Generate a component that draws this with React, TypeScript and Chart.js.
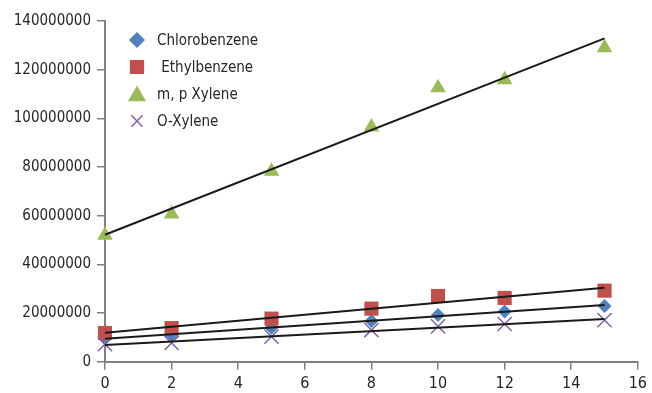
import React, { useEffect, useRef } from "react";
import { Chart, registerables } from "chart.js";
import { drawPoint } from "chart.js/helpers";

Chart.register(...registerables);

// Concentration levels (x) and detector response for each compound
const levels = [0, 2, 5, 8, 10, 12, 15];
const chlorobenzene = [9.5e6, 11.0e6, 14.0e6, 16.7e6, 19.2e6, 20.6e6, 22.9e6];
const ethylbenzene = [11.8e6, 13.8e6, 17.7e6, 21.8e6, 27.0e6, 26.2e6, 29.2e6];
const mpXylene = [52.0e6, 60.7e6, 78.3e6, 96.4e6, 112.6e6, 115.9e6, 129.0e6];
const oXylene = [7.2e6, 7.7e6, 10.3e6, 13.0e6, 14.5e6, 15.5e6, 17.1e6];

const seriesNames = ["Chlorobenzene", " Ethylbenzene", "m, p Xylene", "O-Xylene"];
const seriesValues = [chlorobenzene, ethylbenzene, mpXylene, oXylene];
const seriesColors = ["#4F81BD", "#C0504D", "#9BBB59", "#8064A2"];
const seriesStyles = ["rectRot", "rect", "triangle", "crossRot"] as const;
const seriesRadius = [7, 10, 9, 10];

const xTicks = { min: 0, max: 16, step: 2 };
const yTicks = { min: 0, max: 140000000, step: 20000000 };

const FONT = '"DejaVu Sans Condensed", "Liberation Sans Narrow", sans-serif';
const TEXT = "#262626";
const AXIS = "#808080";

// Least-squares linear trendline over the full level range
function trend(values: number[]) {
  const n = levels.length;
  const mx = levels.reduce((a, b) => a + b, 0) / n;
  const my = values.reduce((a, b) => a + b, 0) / n;
  let sxy = 0;
  let sxx = 0;
  for (let i = 0; i < n; i++) {
    sxy += (levels[i] - mx) * (values[i] - my);
    sxx += (levels[i] - mx) * (levels[i] - mx);
  }
  const slope = sxy / sxx;
  const icpt = my - slope * mx;
  const x0 = levels[0];
  const x1 = levels[n - 1];
  return [
    { x: x0, y: icpt + slope * x0 },
    { x: x1, y: icpt + slope * x1 },
  ];
}

const insideLegend = {
  id: "insideLegend",
  afterDraw(chart: any) {
    const ctx = chart.ctx as CanvasRenderingContext2D;
    const left = 137;
    const top = 40;
    const gap = 27;
    ctx.save();
    seriesNames.forEach((name, i) => {
      const y = top + i * gap;
      const style = seriesStyles[i];
      ctx.fillStyle = seriesColors[i];
      ctx.strokeStyle = seriesColors[i];
      ctx.lineWidth = 1.5;
      const r = style === "triangle" ? 9 : style === "rectRot" ? 7 : style === "rect" ? 9 : 8;
      drawPoint(ctx, { pointStyle: style, radius: r, rotation: 0, borderWidth: 1.5 }, left, style === "triangle" ? y + 2 : y);
      ctx.fillStyle = TEXT;
      ctx.font = `15px ${FONT}`;
      ctx.textBaseline = "middle";
      ctx.textAlign = "left";
      ctx.fillText(name, 157, y + 1);
    });
    ctx.restore();
  },
};

export default function App() {
  const canvasRef = useRef<HTMLCanvasElement | null>(null);

  useEffect(() => {
    document.body.style.margin = "0";
    const canvas = canvasRef.current;
    if (!canvas) return;

    const scatterSets = seriesNames.map((name, i) => ({
      type: "scatter" as const,
      label: name.trim(),
      data: levels.map((x, j) => ({ x, y: seriesValues[i][j] })),
      pointStyle: seriesStyles[i],
      pointRadius: seriesRadius[i],
      pointBackgroundColor: seriesColors[i],
      pointBorderColor: seriesColors[i],
      pointBorderWidth: seriesStyles[i] === "crossRot" ? 1.5 : 0,
      showLine: false,
      clip: false,
      order: [5, 4, 3, 2][i],
    }));

    const trendSets = seriesValues.map((vals, i) => ({
      type: "line" as const,
      label: `trend ${i}`,
      data: trend(vals),
      borderColor: "#1a1a1a",
      borderWidth: 2,
      pointRadius: 0,
      fill: false,
      clip: false,
      order: 1,
    }));

    const chart = new Chart(canvas, {
      type: "scatter",
      data: { datasets: [...scatterSets, ...trendSets] as any },
      options: {
        animation: false,
        responsive: false,
        maintainAspectRatio: false,
        layout: { padding: { top: 21, right: 11, left: 0, bottom: 0 } },
        plugins: {
          legend: { display: false },
          tooltip: { enabled: false },
        },
        scales: {
          x: {
            type: "linear",
            min: xTicks.min,
            max: xTicks.max,
            ticks: {
              stepSize: xTicks.step,
              color: TEXT,
              font: { family: FONT, size: 16 },
              padding: 5,
            },
            grid: {
              drawOnChartArea: false,
              drawTicks: true,
              tickLength: 8,
              color: AXIS,
              lineWidth: 1.5,
            },
            border: { color: AXIS, width: 2 },
            afterFit(scale: any) {
              scale.height = 31.3;
            },
          },
          y: {
            type: "linear",
            min: yTicks.min,
            max: yTicks.max,
            ticks: {
              stepSize: yTicks.step,
              color: TEXT,
              font: { family: FONT, size: 15 },
              padding: 6,
              callback: (v: any) => String(v),
            },
            grid: {
              drawOnChartArea: false,
              drawTicks: true,
              tickLength: 8,
              color: AXIS,
              lineWidth: 1.5,
            },
            border: { color: AXIS, width: 2 },
            afterFit(scale: any) {
              scale.width = 105;
            },
          },
        },
      },
      plugins: [insideLegend],
    });

    return () => chart.destroy();
  }, []);

  return (
    <div style={{ width: 652, height: 393, background: "#fff" }}>
      <canvas ref={canvasRef} width={652} height={393} style={{ display: "block" }} />
    </div>
  );
}
